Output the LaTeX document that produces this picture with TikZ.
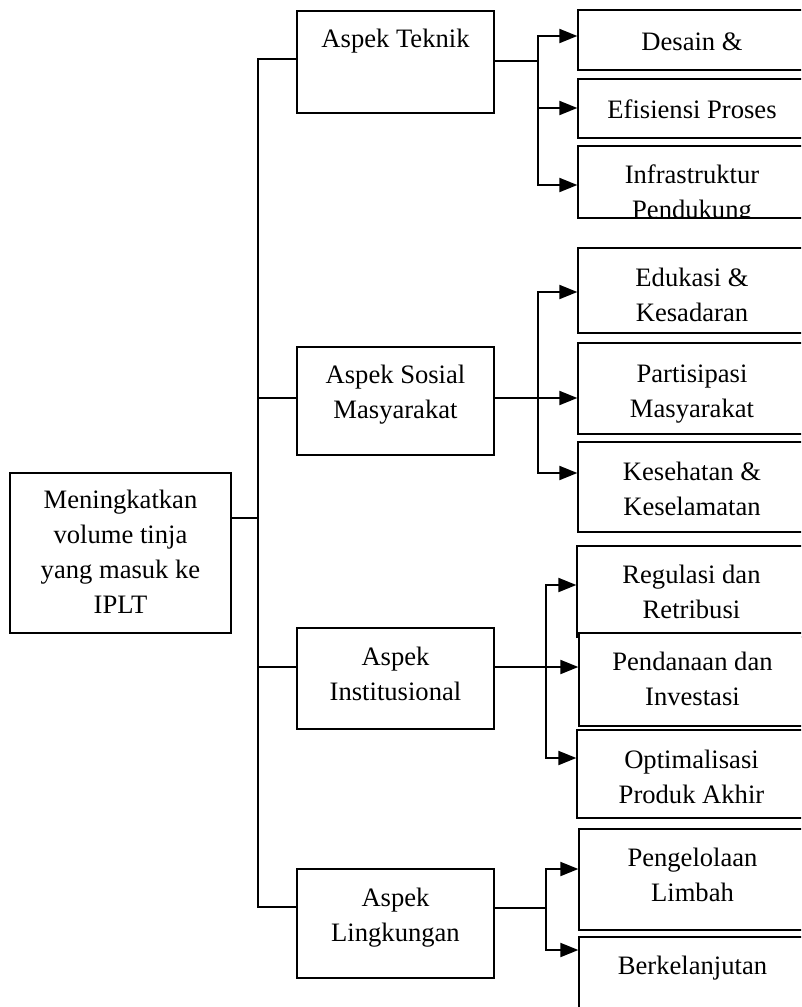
\documentclass[tikz,border=0pt]{standalone}
\usepackage{fontspec}
\setmainfont{Liberation Serif}
\usetikzlibrary{arrows.meta,positioning,calc}
\tikzstyle{box}=[draw,line width=1.3pt,fill=white,inner sep=0pt]
\tikzstyle{boxtext}=[align=center,inner sep=0pt,anchor=north,font=\fontsize{26.6}{35}\selectfont]
\tikzstyle{link}=[draw,line width=2pt,line cap=rect]
\tikzstyle{arrowlink}=[draw,line width=2pt,line cap=rect,-{Triangle[length=18pt,width=14pt]}]

\begin{document}
\begin{tikzpicture}[x=1pt,y=-1pt]
    \clip (0,0) rectangle (801,1007);
    % First we draw the boxes: left/right/top/bottom/top of text/name/text
    \foreach \xl/\xr/\yt/\yb/\yc/\name/\txt in {
        10/231/473/633/490/root/{Meningkatkan\\volume tinja\\yang masuk ke\\IPLT},
        297/494/11/113/29/teknik/{Aspek Teknik},
        297/494/347/455/365/sosial/{Aspek Sosial\\Masyarakat},
        297/494/628/729/647/inst/{Aspek\\Institusional},
        297/494/869/978/888/ling/{Aspek\\Lingkungan},
        578/806/10/70/33/desain/{Desain \&},
        578/806/79/138/100/efisiensi/{Efisiensi Proses},
        578/806/146/218/165/infra/{Infrastruktur\\Pendukung},
        578/806/248/333/268/edukasi/{Edukasi \&\\Kesadaran},
        578/806/343/434/365/partisipasi/{Partisipasi\\Masyarakat},
        578/806/442/532/462/kesehatan/{Kesehatan \&\\Keselamatan},
        577/806/546/637/565/regulasi/{Regulasi dan\\Retribusi},
        579/806/633/726/652/pendanaan/{Pendanaan dan\\Investasi},
        577/806/730/818/750/optimal/{Optimalisasi\\Produk Akhir},
        579/806/829/930/848/pengelolaan/{Pengelolaan\\Limbah},
        579/806/937/1030/956/lanjut/{Berkelanjutan}}
    {
        \node[box,minimum width={(\xr-\xl)*1pt},minimum height={(\yb-\yt)*1pt}] (\name) at ({(\xl+\xr)/2},{(\yt+\yb)/2}) {};
        \begin{scope}
            \clip (\name.south west) rectangle (\name.north east);
            \node[boxtext] (\name-t) at ({(\xl+\xr)/2},\yc) {\txt};
        \end{scope}
    }

    % Trunk from the goal to the four aspects
    \coordinate (trunktop) at (258,59);
    \coordinate (trunkbot) at (258,907);
    \path[link] (trunktop) -- (trunkbot);
    \path[link] (root.east |- 0,518) -- (trunktop |- 0,518);
    \foreach \name/\y in {teknik/59, sosial/398, inst/667, ling/907}
        \path[link] (trunktop |- 0,\y) -- (\name.west |- 0,\y);

    % Branches on the right of each aspect
    \foreach \name/\y/\bx/\ya/\yb in {teknik/61/538/36/185, sosial/398/538/292/473, inst/667/546/585/758, ling/908/546/869/950}
    {
        \coordinate (\name-br) at (\bx,\y);
        \path[link] (\name.east |- \name-br) -- (\name-br);
        \path[link] (\name-br |- 0,\ya) -- (\name-br |- 0,\yb);
    }

    % Connect branches with arrows
    \foreach \source/\dest/\y in {teknik/desain/36, teknik/efisiensi/108, teknik/infra/185,
        sosial/edukasi/292, sosial/partisipasi/398, sosial/kesehatan/473,
        inst/regulasi/585, inst/pendanaan/667, inst/optimal/758,
        ling/pengelolaan/869, ling/lanjut/950}
        \path[arrowlink] (\source-br |- 0,\y) -- (\dest.west |- 0,\y);
\end{tikzpicture}
\end{document}
